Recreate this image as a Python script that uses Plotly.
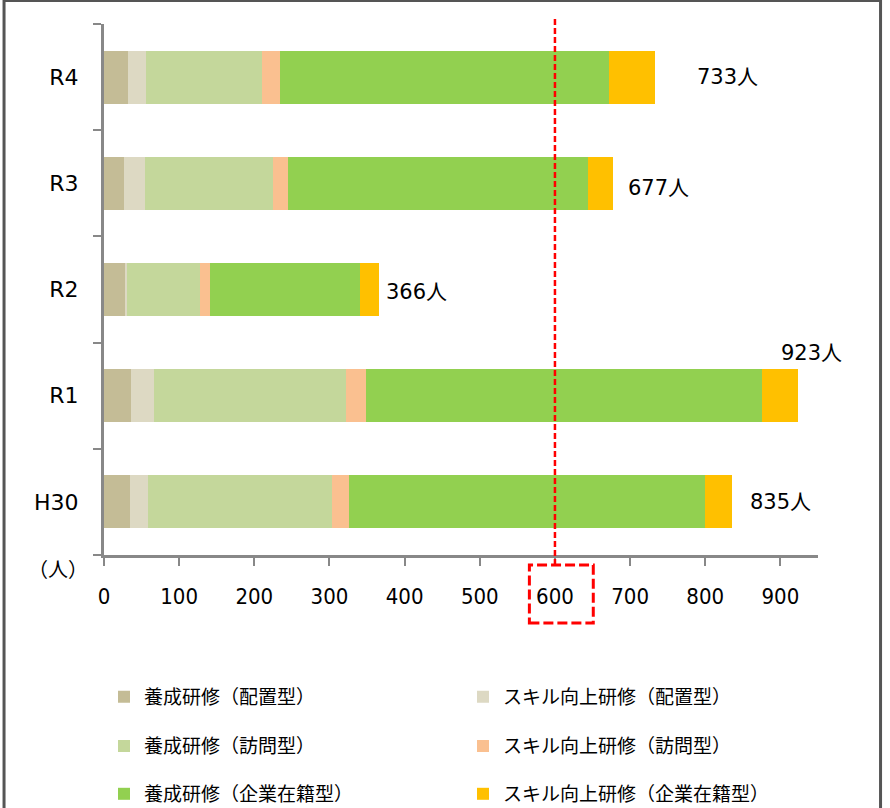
import plotly.graph_objects as go

categories = ["H30", "R1", "R2", "R3", "R4"]
series_names = [
    "養成研修（配置型）",
    "スキル向上研修（配置型）",
    "養成研修（訪問型）",
    "スキル向上研修（訪問型）",
    "養成研修（企業在籍型）",
    "スキル向上研修（企業在籍型）",
]
yosei_haichi = [34, 36, 29, 27, 32]
skill_haichi = [24, 31, 2, 27, 24]
yosei_houmon = [246, 255, 97, 171, 154]
skill_houmon = [22, 27, 13, 20, 24]
yosei_kigyou = [474, 527, 199, 399, 438]
skill_kigyou = [35, 47, 26, 33, 61]
x_ticks = [0, 100, 200, 300, 400, 500, 600, 700, 800, 900]
threshold = 600

series_values = [yosei_haichi, skill_haichi, yosei_houmon, skill_houmon, yosei_kigyou, skill_kigyou]
colors = ["#C4BC96", "#DDD9C3", "#C4D79B", "#FAC090", "#92D050", "#FFC000"]
legend_ids = ["legend", "legend", "legend2", "legend2", "legend3", "legend3"]

fig = go.Figure()
for name, vals, col, lg in zip(series_names, series_values, colors, legend_ids):
    fig.add_trace(go.Bar(
        y=categories, x=vals, name=name, orientation="h",
        marker=dict(color=col, line=dict(width=0)),
        width=0.5, legend=lg,
    ))

totals = [sum(v) for v in zip(*series_values)]
# label offsets in px (style)
label_xshift = [16, -19, 5, 13, 40]
label_yshift = [0, 43, -2, -5, 0]
for cat, tot, xs, ys in zip(categories, totals, label_xshift, label_yshift):
    fig.add_annotation(
        x=tot, y=cat, text=f"{tot}人", showarrow=False,
        xanchor="left", yanchor="middle", xshift=xs, yshift=ys,
        font=dict(family="DejaVu Sans, Noto Sans CJK JP", size=21, color="#000"),
    )

# unit label
fig.add_annotation(
    x=-0.02, y=-0.025, xref="paper", yref="paper", text="（人）", showarrow=False,
    xanchor="right", yanchor="middle",
    font=dict(family="Noto Sans CJK JP", size=20, color="#000"),
)

# red dashed threshold line
fig.add_shape(type="line", x0=threshold, x1=threshold, xref="x", yref="paper",
              y0=-0.019, y1=1.0094, line=dict(color="#FF0000", width=2.5, dash="6px,3px"))
# dashed box around the 600 tick label
fig.add_shape(type="rect", xref="x", yref="paper", x0=threshold - 34, x1=threshold + 51,
              y0=-0.128, y1=-0.019, line=dict(color="#FF0000", width=3, dash="10px,4px"))

# outer frame
fig.add_shape(type="rect", xref="paper", yref="paper", x0=-0.14, x1=1.0876,
              y0=-0.6, y1=1.0443, line=dict(color="#555555", width=3), layer="below")

legend_font = dict(family="Noto Sans CJK JP", size=19, color="#000")
common_legend = dict(orientation="h", xanchor="left", yanchor="middle", x=0.0,
                     entrywidth=314, font=legend_font, bgcolor="rgba(0,0,0,0)",
                     traceorder="normal", itemclick=False, itemdoubleclick=False)

fig.update_layout(
    width=890, height=808,
    margin=dict(l=104, r=72, t=24, b=253, autoexpand=False),
    paper_bgcolor="white", plot_bgcolor="white",
    barmode="stack",
    showlegend=True,
    legend=dict(y=-0.267, **common_legend),
    legend2=dict(y=-0.360, **common_legend),
    legend3=dict(y=-0.450, **common_legend),
    xaxis=dict(
        range=[0, 950], tickvals=x_ticks, ticktext=[str(v) for v in x_ticks],
        showgrid=False, zeroline=False, showline=True, linecolor="#888888", linewidth=3,
        ticks="outside", ticklen=8, tickcolor="#888888", tickwidth=1.5,
        ticklabelstandoff=12,
        tickfont=dict(family="DejaVu Sans Condensed", size=22, color="#000"),
    ),
    yaxis=dict(
        categoryorder="array", categoryarray=categories,
        showgrid=False, zeroline=False, showline=True, linecolor="#888888", linewidth=3,
        ticks="outside", ticklen=8, tickcolor="#888888", tickwidth=1.5, tickson="boundaries",
        ticklabelstandoff=18,
        tickfont=dict(family="DejaVu Sans", size=22, color="#000"),
    ),
)

fig.write_html("out.html")
